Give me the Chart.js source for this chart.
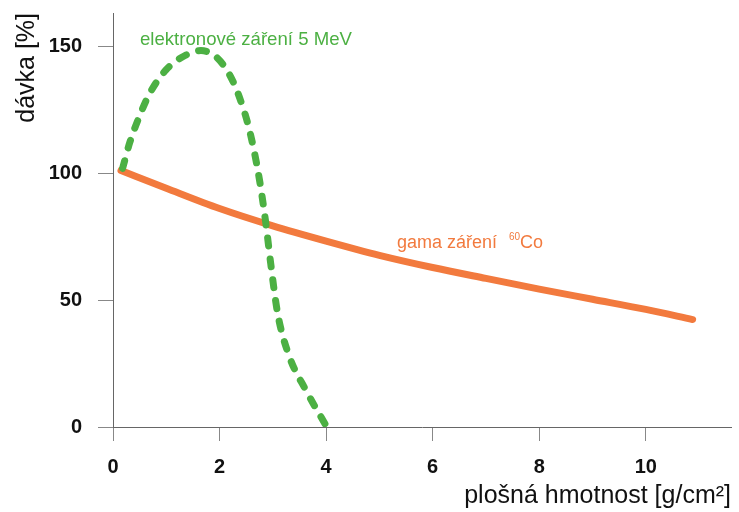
<!DOCTYPE html>
<html>
<head>
<meta charset="utf-8">
<script src="https://cdn.jsdelivr.net/npm/chart.js@4.4.1/dist/chart.umd.min.js"></script>
<style>
  html, body { margin: 0; padding: 0; background: #fff; }
  #wrap { width: 739px; height: 512px; }
</style>
</head>
<body>
<div id="wrap"><canvas id="chart" width="739" height="512"></canvas></div>
<script>
// values
const electronX = [0.18, 0.31, 0.49, 0.68, 0.99, 1.31, 1.65, 1.93, 2.18, 2.37, 2.56, 2.74, 2.87, 2.96, 3.09, 3.30, 3.62, 4.0];
const electronY = [101.8, 111.7, 122, 131, 140.5, 145.8, 148.2, 145.8, 139, 130, 117, 98.5, 80, 64.4, 44.8, 28.3, 14.5, 0.5];

const gammaX = [0.15, 1, 2, 3, 4, 5, 6, 7, 8, 9, 10, 10.88];
const gammaY = [101, 94, 86, 79.2, 73.2, 67.6, 62.8, 58.5, 54.3, 50.3, 46.3, 42.3];

const xTicks = [0, 2, 4, 6, 8, 10];
const yTicks = [0, 50, 100, 150];

const orange = '#f27a3e';
const green = '#4cb043';
const fontFamily = '"Liberation Sans", Arial, sans-serif';

const toPoints = (xs, ys) => xs.map((x, i) => ({ x: x, y: ys[i] }));

// curve labels
const labelsPlugin = {
  id: 'curveLabels',
  afterDatasetsDraw(chart) {
    const ctx = chart.ctx;
    ctx.save();
    ctx.textBaseline = 'alphabetic';
    ctx.textAlign = 'left';

    ctx.fillStyle = green;
    ctx.font = '18.6px ' + fontFamily;
    ctx.fillText('elektronové záření 5 MeV', 140, 45);

    ctx.fillStyle = orange;
    ctx.font = '18px ' + fontFamily;
    ctx.fillText('gama záření', 397, 248);
    ctx.font = '10px ' + fontFamily;
    ctx.fillText('60', 509, 240);
    ctx.font = '18px ' + fontFamily;
    ctx.fillText('Co', 520, 248);
    ctx.restore();
  }
};

chart = new Chart(document.getElementById('chart').getContext('2d'), {
  type: 'line',
  data: {
    datasets: [{
      label: 'elektronové záření 5 MeV',
      data: toPoints(electronX, electronY),
      borderColor: green,
      borderWidth: 7,
      borderDash: [8, 13],
      borderCapStyle: 'round',
      cubicInterpolationMode: 'monotone',
      pointRadius: 0,
      fill: false
    }, {
      label: 'gama záření 60Co',
      data: toPoints(gammaX, gammaY),
      borderColor: orange,
      borderWidth: 7,
      borderCapStyle: 'round',
      cubicInterpolationMode: 'monotone',
      pointRadius: 0,
      fill: false
    }]
  },
  options: {
    responsive: false,
    animation: false,
    layout: { padding: { top: 0, right: 8, left: 0, bottom: 0 } },
    plugins: {
      legend: { display: false },
      tooltip: { enabled: false }
    },
    scales: {
      x: {
        type: 'linear',
        min: 0,
        max: 11.6,
        afterFit: (s) => { s.height = 85; },
        afterBuildTicks: (s) => { s.ticks = xTicks.map(v => ({ value: v })); },
        ticks: {
          padding: 14,
          color: '#111',
          font: { family: fontFamily, size: 20, weight: 'bold' }
        },
        grid: { drawOnChartArea: false, tickLength: 14, color: '#888', lineWidth: 1 },
        border: { display: true, color: '#666', width: 1 },
        title: {
          display: true,
          text: 'plošná hmotnost [g/cm²]',
          align: 'end',
          color: '#111',
          padding: { top: 0, bottom: 1 },
          font: { family: fontFamily, size: 25, weight: 'normal', lineHeight: 1.2 }
        }
      },
      y: {
        type: 'linear',
        min: 0,
        max: 163,
        afterFit: (s) => {
          s.width = 113;
          s.paddingTop = 13;   // axis starts near the top edge
          s.paddingBottom = 0;
        },
        afterBuildTicks: (s) => { s.ticks = yTicks.map(v => ({ value: v })); },
        ticks: {
          padding: 16,
          color: '#111',
          font: { family: fontFamily, size: 20, weight: 'bold' }
        },
        grid: { drawOnChartArea: false, tickLength: 15, color: '#888', lineWidth: 1 },
        border: { display: true, color: '#666', width: 1 },
        title: {
          display: true,
          text: 'dávka [%]',
          align: 'end',
          color: '#111',
          padding: { top: 12, bottom: 0 },
          font: { family: fontFamily, size: 25, weight: 'normal', lineHeight: 1.2 }
        }
      }
    }
  },
  plugins: [labelsPlugin]
});
</script>
</body>
</html>
